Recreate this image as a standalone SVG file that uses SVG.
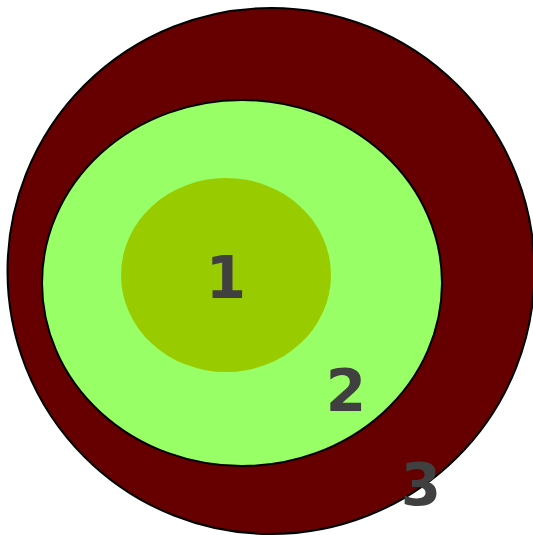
<svg xmlns="http://www.w3.org/2000/svg" width="533" height="535" viewBox="0 0 533 535">
<style>
.lbl{font-family:"DejaVu Sans",sans-serif;font-weight:bold;font-size:58px;fill:#404040;text-anchor:middle}
</style>
<rect width="533" height="535" fill="#ffffff"/>
<g id="node3">
<ellipse cx="271" cy="271" rx="263.5" ry="263" fill="#660000" stroke="#000" stroke-width="2"/>
<text class="lbl" x="421" y="505">3</text>
</g>
<g id="node2">
<ellipse cx="242" cy="283" rx="200" ry="183" fill="#99ff66" stroke="#000" stroke-width="2"/>
<text class="lbl" x="346" y="411">2</text>
</g>
<g id="node1">
<ellipse cx="226" cy="275" rx="105" ry="97" fill="#99cc00"/>
<text class="lbl" x="226" y="298">1</text>
</g>
<g id="connectors"/>
</svg>
